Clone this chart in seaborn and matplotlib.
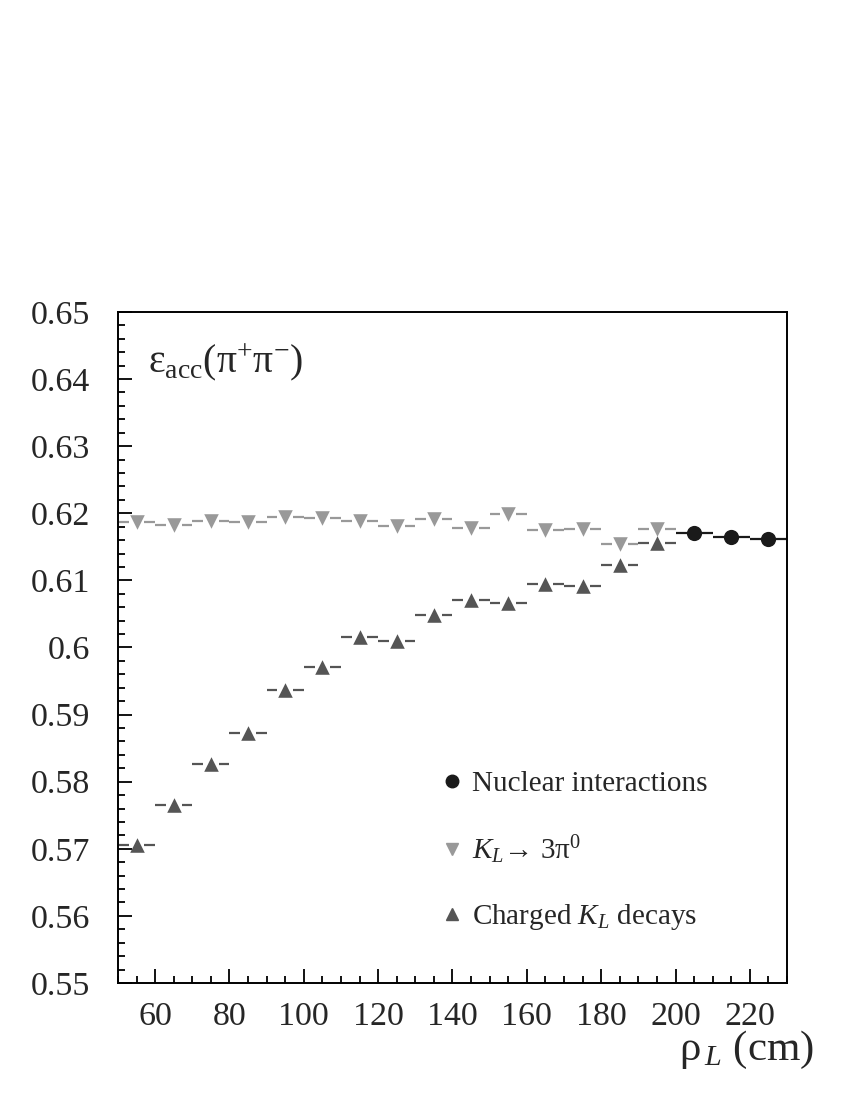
import numpy as np
import pandas as pd
import matplotlib
matplotlib.use('Agg')
import matplotlib.pyplot as plt
from matplotlib.lines import Line2D
from matplotlib.ticker import MultipleLocator
import seaborn as sns

# bin centres (cm), bins are 10 cm wide
rho_3pi0 = [55, 65, 75, 85, 95, 105, 115, 125, 135, 145, 155, 165, 175, 185, 195]
eff_3pi0 = [0.6187, 0.6183, 0.6189, 0.6187, 0.6194, 0.6193, 0.6189, 0.6181,
            0.6191, 0.6178, 0.6199, 0.6175, 0.6177, 0.6154, 0.6177]

rho_charged = [55, 65, 75, 85, 95, 105, 115, 125, 135, 145, 155, 165, 175, 185, 195]
eff_charged = [0.5706, 0.5765, 0.5826, 0.5873, 0.5937, 0.5971, 0.6016, 0.6010,
               0.6048, 0.6071, 0.6066, 0.6095, 0.6092, 0.6123, 0.6156]

rho_nuclear = [205, 215, 225]
eff_nuclear = [0.6171, 0.6165, 0.6162]

bin_half = 5.0

sns.set_theme(style='ticks')
plt.rcParams['font.family'] = ['Liberation Serif', 'DejaVu Serif']
plt.rcParams['mathtext.fontset'] = 'custom'
plt.rcParams['mathtext.rm'] = 'Liberation Serif'
plt.rcParams['mathtext.it'] = 'Liberation Serif:italic'

fig = plt.figure(figsize=(8.5, 11), dpi=100)
ax = fig.add_axes([0.1388, 0.1064, 0.7871, 0.61])

c_3pi0 = '#999999'
c_charged = '#555555'
c_nuclear = '#1a1a1a'


def bin_bars(x, y, color, gap):
    x = np.asarray(x, dtype=float)
    y = np.asarray(y, dtype=float)
    if gap > 0:
        ax.hlines(y, x - bin_half, x - gap, color=color, lw=1.6, zorder=2)
        ax.hlines(y, x + gap, x + bin_half, color=color, lw=1.6, zorder=2)
    else:
        ax.hlines(y, x - bin_half, x + bin_half, color=color, lw=1.6, zorder=2)


bin_bars(rho_3pi0, eff_3pi0, c_3pi0, 2.1)
bin_bars(rho_charged, eff_charged, c_charged, 2.1)
bin_bars(rho_nuclear, eff_nuclear, c_nuclear, 0)

df_3pi0 = pd.DataFrame({'rho': rho_3pi0, 'eff': eff_3pi0})
df_charged = pd.DataFrame({'rho': rho_charged, 'eff': eff_charged})
df_nuclear = pd.DataFrame({'rho': rho_nuclear, 'eff': eff_nuclear})

sns.scatterplot(data=df_3pi0, x='rho', y='eff', marker='v', color=c_3pi0,
                s=110, linewidth=0, ax=ax, zorder=3, legend=False)
sns.scatterplot(data=df_charged, x='rho', y='eff', marker='^', color=c_charged,
                s=110, linewidth=0, ax=ax, zorder=3, legend=False)
sns.scatterplot(data=df_nuclear, x='rho', y='eff', marker='o', color=c_nuclear,
                s=120, linewidth=0, ax=ax, zorder=3, legend=False)

ax.set_xlim(50, 230)
ax.set_ylim(0.55, 0.65)
ax.xaxis.set_major_locator(MultipleLocator(20))
ax.xaxis.set_minor_locator(MultipleLocator(5))
ax.yaxis.set_major_locator(MultipleLocator(0.01))
ax.yaxis.set_minor_locator(MultipleLocator(0.002))
ax.set_yticks(np.arange(0.55, 0.6501, 0.01))
ax.set_yticklabels(['0.55', '0.56', '0.57', '0.58', '0.59', '0.6',
                    '0.61', '0.62', '0.63', '0.64', '0.65'])
ax.set_xticks(np.arange(60, 221, 20))
ax.tick_params(which='both', direction='in', top=False, right=False,
               labelsize=24.5, width=1.3, color='black')
ax.tick_params(axis='y', which='both', pad=20)
ax.tick_params(axis='x', which='both', pad=13)
ax.tick_params(which='major', length=10)
ax.tick_params(which='minor', length=5)
for sp in ax.spines.values():
    sp.set_linewidth(1.4)
    sp.set_color('black')
ax.set_xlabel('')
ax.set_ylabel('')

ax.text(0.045, 0.925, r'ε$_{\rm acc}$(π$^{+}$π$^{-}$)', transform=ax.transAxes,
        fontsize=28.5, ha='left', va='center')
fig.text(0.958, 0.0455, r'ρ$_{\,L}$ (cm)', fontsize=31, ha='right', va='center')

handles = [
    Line2D([], [], marker='o', ls='none', color=c_nuclear, markersize=9),
    Line2D([], [], marker='v', ls='none', color=c_3pi0, markersize=8),
    Line2D([], [], marker='^', ls='none', color=c_charged, markersize=8),
]
labels = ['Nuclear interactions', r'$K_L$→ 3π$^{0}$', r'Charged $K_L$ decays']
ax.legend(handles, labels, loc='upper left', bbox_to_anchor=(0.442, 0.356),
          frameon=False, fontsize=21, handlelength=0.8, handletextpad=0.3,
          labelspacing=1.24)

fig.savefig('out.png', dpi=100)
